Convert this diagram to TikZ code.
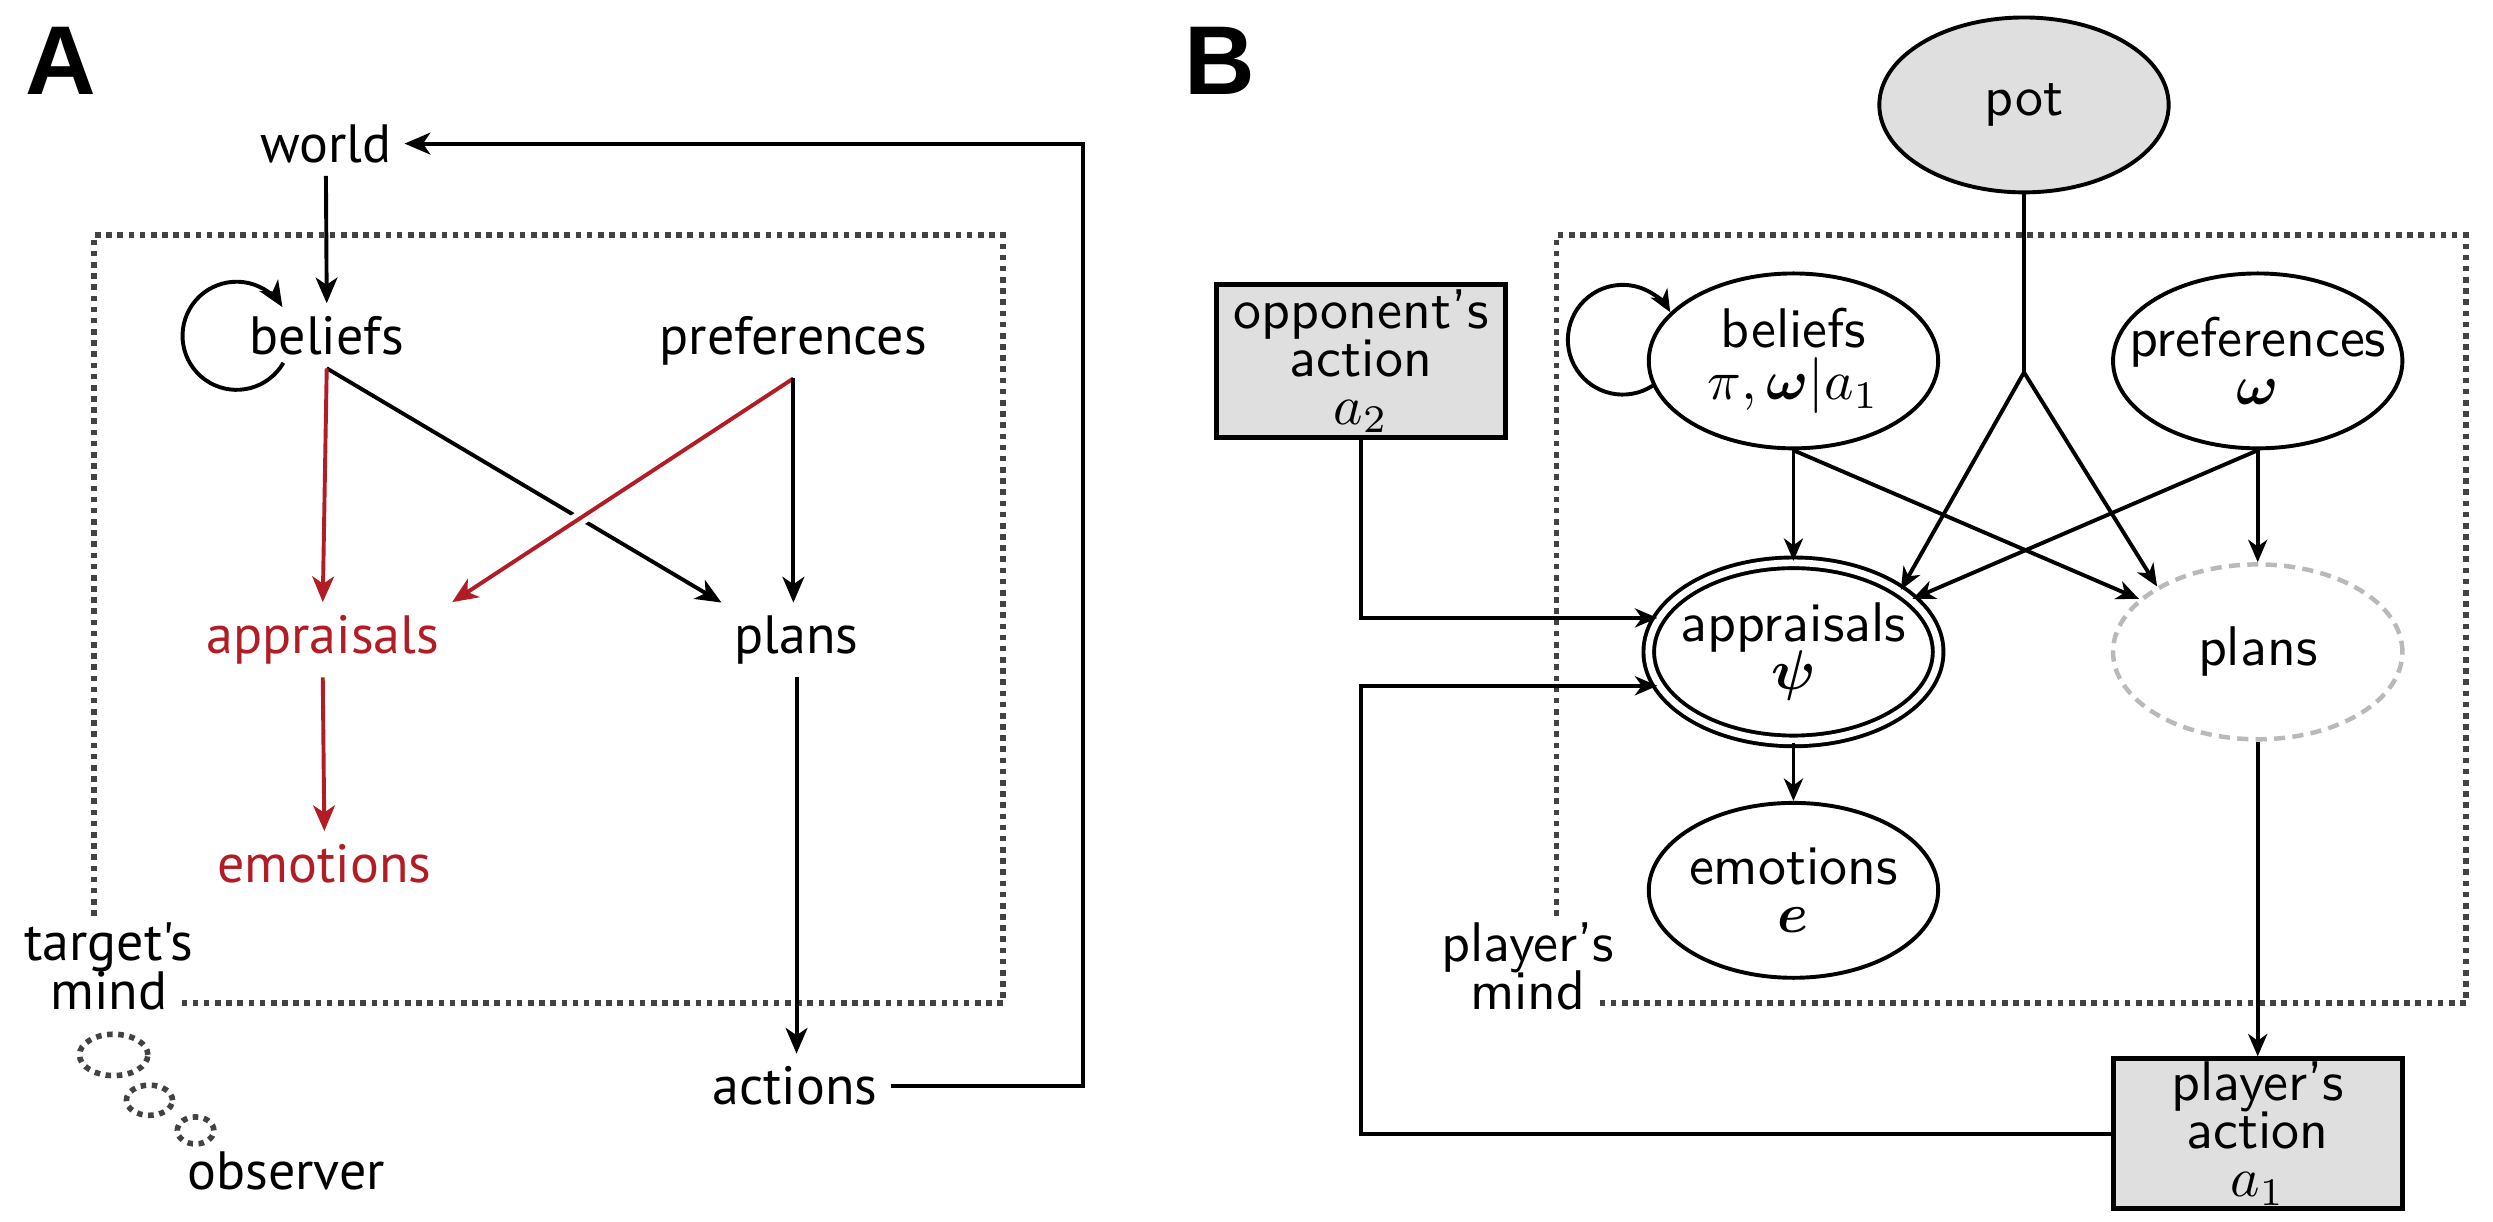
\documentclass[tikz,border=0pt]{standalone}
\usepackage{amsmath}
\usepackage{fontspec}
\newfontfamily\panelfont{PT Sans}
\newfontfamily\tagfont{Liberation Sans}
\usetikzlibrary{arrows.meta,calc,shapes.geometric}
\definecolor{apred}{RGB}{178,28,36}
\definecolor{framegray}{RGB}{66,66,66}
\newcommand\tightA{\panelfont\fontsize{9.65}{8.8}\selectfont\lineskiplimit=-10pt}
\newcommand\tightB{\sffamily\fontsize{10}{8.6}\selectfont\lineskiplimit=-10pt}
\begin{document}
\begin{tikzpicture}[
  tag/.style={font=\tagfont\bfseries\fontsize{17.5}{17.5}\selectfont, inner sep=0pt},
  txt/.style={font=\tightA, inner sep=2pt},
  mindline/.style={draw=framegray, line width=1pt, dash pattern=on 1pt off 1pt},
  var/.style={ellipse, draw, line width=0.7pt, inner sep=-1cm, minimum width=1.82cm,
    minimum height=1.1cm, align=center, font=\tightB},
  obs/.style={rectangle, draw, line width=0.9pt, fill=gray!25, minimum width=1.82cm,
    minimum height=0.96cm, inner sep=0pt, align=center, font=\tightB}
]
\useasboundingbox (0,0) rectangle (15.68,7.68);
\begin{scope}[>={Stealth[length=4.6pt,width=3.9pt,inset=1.3pt]}, line width=0.7pt]
\node[tag] (tagA) at (0.38,7.30) {A};
\node[txt, anchor=base] (world) at (2.05,6.66) {world};
\node[txt, anchor=base] (bel) at (2.055,5.45) {beliefs};
\node[txt, anchor=base] (pref) at (4.99,5.45) {preferences};
\node[txt, anchor=base, apred] (appr) at (2.03,3.57) {appraisals};
\node[txt, anchor=base] (plan) at (5.01,3.57) {plans};
\node[txt, anchor=base, apred] (emo) at (2.04,2.13) {emotions};
\node[txt, anchor=base] (act) at (5.00,0.73) {actions};
\node[txt, align=center] (tmind) at (0.685,1.60) {target's\\mind};
\node[txt, anchor=base] (obsv) at (1.80,0.20) {observer};
\draw[mindline] (0.59,1.92) -- (0.59,6.20) -- (6.31,6.20) -- (6.31,1.37) -- (1.14,1.37);
\draw[mindline] (0.715,1.045) ellipse[x radius=0.215, y radius=0.13];
\draw[mindline] (0.94,0.76) ellipse[x radius=0.145, y radius=0.095];
\draw[mindline] (1.23,0.57) ellipse[x radius=0.115, y radius=0.085];
\coordinate (backA) at (6.81,4.00);
\draw[->] (world.south) -- (bel.north);
\draw[->] ([shift={(-30:0.34)}]bel.west) arc[start angle=-30, end angle=-328, radius=0.34];
\draw[->] (bel.south) -- (plan.north west);
\draw[->, apred] (bel.south) -- (appr.north);
\draw[white, line width=2.6pt] ($(pref.south)!0.53!(appr.north east)$) -- ($(pref.south)!0.67!(appr.north east)$);
\draw[->, apred] (pref.south) -- (appr.north east);
\draw[->] (pref.south) -- (pref.south |- plan.north);
\draw[->, apred] (appr.south) -- (emo.north);
\draw[->] (plan.south) -- (plan.south |- act.north);
\draw[->] (act.east) -| (backA) |- (world.east);
\end{scope}
\begin{scope}[>={Stealth[length=4pt,width=3.4pt,inset=1.2pt]}, line width=0.7pt]
\node[tag] (tagB) at (7.67,7.30) {B};
\node[var, fill=gray!25] (pot) at (12.73,7.02) {pot};
\node[var] (belB) at (11.28,5.41) {beliefs\\[0.8pt]$\pi,\boldsymbol{\omega}|a_1$};
\node[var] (prefB) at (14.20,5.41) {preferences\\$\boldsymbol{\omega}$};
\node[var, double, double distance=1.2pt, minimum height=1.12cm] (apprB) at (11.28,3.58) {appraisals\\$\boldsymbol{\psi}$};
\node[var, draw=gray!55, line width=0.8pt, dash pattern=on 2pt off 1.3pt] (planB) at (14.20,3.58) {plans};
\node[var] (emoB) at (11.28,2.08) {emotions\\$\boldsymbol{e}$};
\node[obs] (opp) at (8.56,5.41) {opponent's\\action\\$a_2$};
\node[obs, minimum height=0.94cm] (pact) at (14.20,0.55) {player's\\action\\$a_1$};
\node[font=\tightB, align=center, inner sep=2pt] (pmind) at (9.61,1.60) {player's\\mind};
\draw[mindline] (9.79,1.92) -- (9.79,6.20) -- (15.51,6.20) -- (15.51,1.37) -- (10.06,1.37);
\coordinate (fork) at ([yshift=-1.12cm]pot.south);
\draw (pot.south) -- (fork);
\draw[->] (fork) -- (apprB.30);
\draw[->] (fork) -- (planB.147);
\draw[->] (belB.190) arc[start angle=-57, end angle=-330, radius=0.345];
\draw[->] (belB.south) -- (apprB.north);
\draw[->] (belB.south) -- (planB.156);
\draw[->] (prefB.south) -- (apprB.24);
\draw[->] (prefB.south) -- (planB.north);
\draw[->] (apprB.south) -- (emoB.north);
\draw[->] (planB.south) -- (pact.north);
\draw[->] (opp.south) |- (apprB.166);
\draw[->] (pact.west) -- (pact.west -| opp.south) |- (apprB.194);
\end{scope}
\end{tikzpicture}
\end{document}
